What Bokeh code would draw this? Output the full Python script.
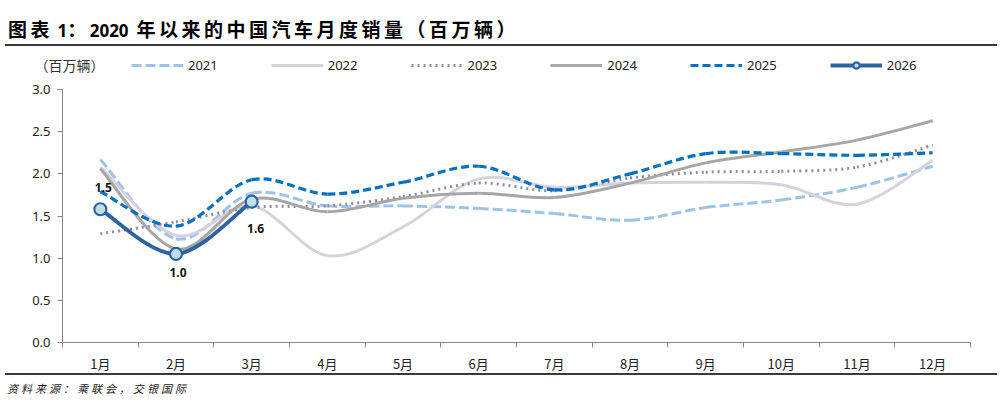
import numpy as np
from bokeh.plotting import figure
from bokeh.models import (FixedTicker, Legend, LegendItem, Label, Div, Range1d,
                          ColumnDataSource, NumeralTickFormatter)
from bokeh.layouts import column
from bokeh.core.properties import value
from bokeh.embed import file_html
from bokeh.resources import INLINE

# ---------------- data ----------------
months = ["1月", "2月", "3月", "4月", "5月", "6月", "7月", "8月", "9月", "10月", "11月", "12月"]
s2021 = [2.17, 1.23, 1.77, 1.62, 1.62, 1.59, 1.53, 1.45, 1.60, 1.69, 1.84, 2.09]
s2022 = [2.08, 1.27, 1.62, 1.03, 1.37, 1.94, 1.84, 1.89, 1.90, 1.87, 1.64, 2.16]
s2023 = [1.29, 1.43, 1.60, 1.62, 1.73, 1.89, 1.80, 1.95, 2.02, 2.03, 2.08, 2.34]
s2024 = [2.06, 1.11, 1.70, 1.55, 1.71, 1.77, 1.72, 1.89, 2.13, 2.26, 2.40, 2.63]
s2025 = [1.79, 1.38, 1.93, 1.76, 1.90, 2.09, 1.81, 2.00, 2.24, 2.24, 2.22, 2.25]
s2026 = [1.58, 1.05, 1.67]
labels_2026 = ["1.5", "1.0", "1.6"]
series_names = ["2021", "2022", "2023", "2024", "2025", "2026"]
y_ticks = [0.0, 0.5, 1.0, 1.5, 2.0, 2.5, 3.0]
title_text = "图表 1：2020 年以来的中国汽车月度销量（百万辆）"
unit_text = "（百万辆）"
source_text = "资料来源：乘联会，交银国际"

# ---------------- layout constants (pixels) ----------------
W, H = 1004, 327                 # figure size
AX_L, AX_R = 62, 970             # x pixel of plot area edges
AX_T, AX_B = 43, 296             # y pixel (from figure top) of plot area edges
Y_MIN, Y_MAX = 0.0, 3.0
X_MIN, X_MAX = 0.5, 12.5

px_x = (AX_R - AX_L) / (X_MAX - X_MIN)
px_y = (AX_B - AX_T) / (Y_MAX - Y_MIN)
x_range = Range1d(X_MIN - AX_L / px_x, X_MAX + (W - AX_R) / px_x)
y_range = Range1d(Y_MIN - (H - AX_B) / px_y, Y_MAX + AX_T / px_y)

# ---------------- styles ----------------
styles = {
    "2021": dict(line_color="#9DC3E6", line_width=3, line_dash="10 4"),
    "2022": dict(line_color="#D6D1DB", line_width=3, line_dash="solid"),
    "2023": dict(line_color="#968AA0", line_width=3, line_dash="2 4"),
    "2024": dict(line_color="#A6A6A6", line_width=3, line_dash="solid"),
    "2025": dict(line_color="#0070C0", line_width=3.2, line_dash="8 4"),
    "2026": dict(line_color="#2E63A3", line_width=3.8, line_dash="solid"),
}
label_offsets_x = [3, 2, 4]
label_offsets_y = [-22, 19, 27]

x_all = np.arange(1, 13, dtype=float)


def bezier_source(xs, ys):
    xs = np.asarray(xs, float)
    ys = np.asarray(ys, float)
    n = len(xs)
    x0, y0, x1, y1, cx0, cy0, cx1, cy1 = ([] for _ in range(8))
    for i in range(n - 1):
        p0 = i - 1 if i > 0 else i
        p3 = i + 2 if i + 2 < n else i + 1
        x0.append(xs[i]); y0.append(ys[i])
        x1.append(xs[i + 1]); y1.append(ys[i + 1])
        cx0.append(xs[i] + (xs[i + 1] - xs[p0]) / 6.0)
        cy0.append(ys[i] + (ys[i + 1] - ys[p0]) / 6.0)
        cx1.append(xs[i + 1] - (xs[p3] - xs[i]) / 6.0)
        cy1.append(ys[i + 1] - (ys[p3] - ys[i]) / 6.0)
    return ColumnDataSource(dict(x0=x0, y0=y0, x1=x1, y1=y1,
                                 cx0=cx0, cy0=cy0, cx1=cx1, cy1=cy1))


p = figure(width=W, height=H, x_range=x_range, y_range=y_range,
           output_backend="svg", toolbar_location=None, min_border=0)
p.outline_line_color = None
p.xgrid.visible = False
p.ygrid.visible = False
p.background_fill_color = "white"
p.border_fill_color = "white"

axis_color = "#868686"
# x axis (drawn at y = 0)
xa = p.xaxis[0]
xa.fixed_location = Y_MIN
xa.bounds = (X_MIN, X_MAX)
xa.ticker = FixedTicker(ticks=list(x_all), minor_ticks=[X_MIN + i for i in range(13)])
xa.major_label_overrides = {int(v): m for v, m in zip(x_all, months)}
xa.major_tick_out = 0
xa.major_tick_in = 0
xa.minor_tick_out = 5
xa.minor_tick_in = 0
xa.minor_tick_line_color = axis_color
xa.axis_line_color = axis_color
xa.major_label_standoff = 6
xa.major_label_text_font = "Noto Sans CJK SC"
xa.major_label_text_font_size = "13px"
xa.major_label_text_color = "#222222"

# y axis (drawn at x = 0.5)
ya = p.yaxis[0]
ya.fixed_location = X_MIN
ya.bounds = (Y_MIN, Y_MAX)
ya.ticker = FixedTicker(ticks=y_ticks)
ya.formatter = NumeralTickFormatter(format="0.0")
ya.major_tick_out = 5
ya.major_tick_in = 0
ya.minor_tick_out = 0
ya.minor_tick_in = 0
ya.major_tick_line_color = axis_color
ya.axis_line_color = axis_color
ya.major_label_standoff = 7
ya.major_label_text_font = "Noto Sans"
ya.major_label_text_font_size = "13px"
ya.major_label_text_color = "#222222"

all_series = [s2021, s2022, s2023, s2024, s2025, s2026]
items = []
for name, ys in zip(series_names, all_series):
    st = styles[name]
    src = bezier_source(x_all[:len(ys)], ys)
    r = p.bezier(x0="x0", y0="y0", x1="x1", y1="y1", cx0="cx0", cy0="cy0",
                 cx1="cx1", cy1="cy1", source=src, **st)
    rends = [r]
    if name == "2026":
        sc = p.scatter(x_all[:len(ys)], ys, size=12, marker="circle",
                       fill_color="#BEDFE3", line_color="#2E63A3", line_width=2.2)
        rends.append(sc)
    items.append(LegendItem(label=name, renderers=rends))

# data labels for 2026
lab_src = ColumnDataSource(dict(x=x_all[:len(s2026)], y=s2026, t=labels_2026,
                                xo=label_offsets_x, yo=label_offsets_y))
p.text(x="x", y="y", text="t", x_offset="xo", y_offset="yo", source=lab_src,
       text_font=value("Noto Sans"), text_font_size="12px", text_font_style="bold",
       text_align="center", text_baseline="middle", text_color="#111111")

legend = Legend(items=items, orientation="horizontal", location=(131, H - 28),
                glyph_width=52, glyph_height=16, label_standoff=5, spacing=53,
                padding=0, margin=0, border_line_color=None,
                background_fill_alpha=0, label_text_font="Noto Sans",
                label_text_font_size="13px", label_text_color="#222222",
                label_height=16)
p.add_layout(legend)

unit = Label(x=34, y=H - 18, x_units="screen", y_units="screen", text=unit_text,
             text_font="Noto Sans CJK SC", text_font_size="14px",
             text_baseline="middle", text_color="#333333")
p.add_layout(unit)

# ---------------- title & source ----------------
t_cjk = "font-family:'Noto Sans CJK SC';font-weight:bold;font-size:19px;letter-spacing:3.5px;"
t_num = "font-family:'Noto Sans';font-weight:bold;font-size:17px;letter-spacing:0px;"
parts = title_text.split("2020")
head = parts[0]  # 图表 1：
tail = parts[1]
title_html = (
    '<div style="width:992px;height:46px;box-sizing:border-box;margin-left:5px;'
    'padding-top:17px;padding-left:3px;line-height:24px;color:#000;'
    'border-bottom:2px solid #3A3A3A;white-space:nowrap;">'
    f'<span style="{t_cjk}">{head[:2]}</span>'
    f'<span style="{t_num}">{head[2:4]}</span>'
    f'<span style="{t_cjk}">{head[4:]}</span>'
    f'<span style="{t_num}">2020</span>'
    f'<span style="{t_cjk}">{tail}</span>'
    '</div>'
)
title_div = Div(text=title_html, width=1004, height=46, margin=0)

source_html = (
    '<div style="width:992px;height:34px;box-sizing:border-box;margin-left:5px;'
    'padding-top:5px;padding-left:2px;line-height:16px;color:#222;'
    'border-top:2px solid #3A3A3A;white-space:nowrap;'
    "font-family:'Noto Sans CJK SC';font-style:italic;font-size:11px;letter-spacing:3px;\">"
    f'{source_text}</div>'
)
source_div = Div(text=source_html, width=1004, height=34, margin=0)

layout = column(title_div, p, source_div, spacing=0)
open("out.html", "w").write(file_html(layout, INLINE))
